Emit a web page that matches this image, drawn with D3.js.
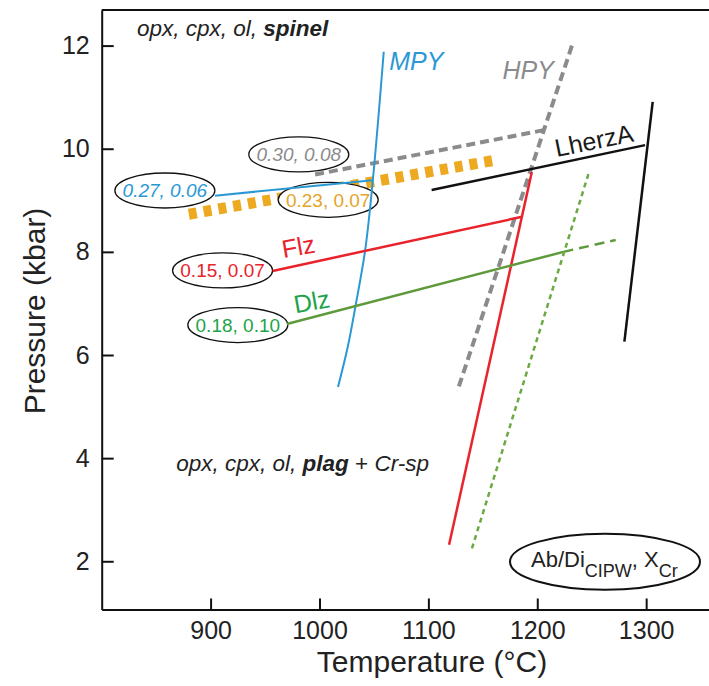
<!DOCTYPE html>
<html>
<head>
<meta charset="utf-8">
<script src="https://cdn.jsdelivr.net/npm/d3@7"></script>
<style>
  body { margin: 0; background: #fff; }
  svg { font-family: "Liberation Sans", Arial, Helvetica, sans-serif; }
</style>
</head>
<body>
<div id="chart"></div>
<script>
// axis ticks
var tempTicks = [900, 1000, 1100, 1200, 1300];
var pressTicks = [2, 4, 6, 8, 10, 12];

// lines as [temperature, pressure]
var mpyLine = [[1017, 5.38], [1026, 6.16], [1033, 6.94], [1042, 8.04], [1049, 9.39], [1059, 11.88]];
var mpyTie = [[904, 9.09], [1049, 9.39]];
var hpyLine = [[1128, 5.39], [1232, 12.01]];
var hpyTie = [[996, 9.50], [1206, 10.36]];
var orangeTie = [[880, 8.73], [1162, 9.78]];
var lherzTie = [[1103, 9.20], [1299, 10.07]];
var lherzLine = [[1280, 6.26], [1306, 10.91]];
var flzTie = [[957, 7.63], [1186, 8.68]];
var flzLine = [[1119, 2.32], [1195, 9.55]];
var dlzTie = [[970, 6.60], [1224, 8.00]];
var dlzExt = [[1224, 8.00], [1272, 8.23]];
var dlzLine = [[1140, 2.25], [1247, 9.51]];

// ellipse labels (Ab/Di, X_Cr) at [temperature, pressure]
var ellipseText = ["0.27, 0.06", "0.30, 0.08", "0.23, 0.07", "0.15, 0.07", "0.18, 0.10"];
var ellipsePos = [[858, 9.19], [981, 9.89], [1008, 9.01], [911, 7.64], [925, 6.58]];

// sample names at [temperature, pressure] of text start
var sampleNames = ["MPY", "HPY", "LherzA", "Flz", "Dlz"];
var samplePos = [[1064, 11.53], [1168, 11.35], [1218, 9.84], [967, 7.88], [978, 6.81]];

var width = 709, height = 686;
var blue = "#2b98d6", gray = "#8b8b8d", orange = "#eda920", red = "#e8232b",
    green = "#5e9a3c", greenText = "#1ea34a", black = "#111";

var svg = d3.select("#chart").append("svg")
    .attr("width", width)
    .attr("height", height);

var x = d3.scaleLinear().domain([800, 1360]).range([101.7, 711.5]);
var y = d3.scaleLinear().domain([1.065, 12.69]).range([609.5, 10]);

// frame top line
svg.append("line")
    .attr("x1", x(800)).attr("x2", x(1360))
    .attr("y1", y(12.69)).attr("y2", y(12.69))
    .attr("stroke", black).attr("stroke-width", 2);

var xAxis = svg.append("g")
    .attr("transform", "translate(0," + y(1.065) + ")")
    .call(d3.axisBottom(x).tickValues(tempTicks).tickFormat(d3.format("d"))
        .tickSizeInner(-11).tickSizeOuter(0).tickPadding(12));
var yAxis = svg.append("g")
    .attr("transform", "translate(" + x(800) + ",0)")
    .call(d3.axisLeft(y).tickValues(pressTicks).tickFormat(d3.format("d"))
        .tickSizeInner(-12).tickSizeOuter(0).tickPadding(12));

[xAxis, yAxis].forEach(function(a) {
    a.select(".domain").attr("stroke", black).attr("stroke-width", 2);
    a.selectAll(".tick line").attr("stroke", black).attr("stroke-width", 2);
    a.selectAll(".tick text").attr("fill", "#222").style("font-size", "25px");
});

svg.append("text")
    .attr("x", 432).attr("y", 672)
    .attr("text-anchor", "middle")
    .style("font-size", "30px").attr("fill", "#222")
    .text("Temperature (°C)");

svg.append("text")
    .attr("transform", "translate(45,311) rotate(-90)")
    .attr("text-anchor", "middle")
    .style("font-size", "30px").attr("fill", "#222")
    .text("Pressure (kbar)");

var line = d3.line()
    .x(function(d) { return x(d[0]); })
    .y(function(d) { return y(d[1]); });

function drawLine(data, color, w, dash, curved) {
    svg.append("path")
        .attr("d", curved ? line.curve(d3.curveCatmullRom)(data) : line.curve(d3.curveLinear)(data))
        .attr("fill", "none")
        .attr("stroke", color)
        .attr("stroke-width", w)
        .attr("stroke-dasharray", dash || null);
}

drawLine(orangeTie, orange, 11, "8,7");
drawLine(hpyTie, gray, 4, "9,5");
drawLine(hpyLine, gray, 4, "9,5");

// ellipses with Ab/Di, X_Cr values
var textColors = [blue, gray, "#e3a52a", red, greenText];
var italic = [true, true, false, false, false];
ellipseText.forEach(function(t, i) {
    var cx = x(ellipsePos[i][0]), cy = y(ellipsePos[i][1]);
    svg.append("ellipse")
        .attr("cx", cx).attr("cy", cy)
        .attr("rx", 50).attr("ry", 17.5)
        .attr("fill", "#fff").attr("stroke", black).attr("stroke-width", 1.3);
    svg.append("text")
        .attr("x", cx).attr("y", cy + 7)
        .attr("text-anchor", "middle")
        .style("font-size", "19px")
        .style("font-style", italic[i] ? "italic" : "normal")
        .attr("fill", textColors[i])
        .text(t);
});

drawLine(mpyTie, blue, 2);
drawLine(mpyLine, blue, 2, null, true);
drawLine(lherzTie, black, 2.5);
drawLine(lherzLine, black, 2.5);
drawLine(flzTie, red, 2.5);
drawLine(flzLine, red, 2.5);
drawLine(dlzTie, green, 2.5);
drawLine(dlzExt, green, 2.5, "10,6");
drawLine(dlzLine, "#6aaa44", 2.5, "5,4");

// sample names
var nameColors = [blue, gray, "#1a1a1a", red, greenText];
var nameRotate = [0, 0, -11.5, -10, -10];
var nameItalic = [true, true, false, false, false];
sampleNames.forEach(function(n, i) {
    var px = x(samplePos[i][0]), py = y(samplePos[i][1]);
    svg.append("text")
        .attr("transform", "translate(" + px + "," + py + ") rotate(" + nameRotate[i] + ")")
        .style("font-size", "25px")
        .style("font-style", nameItalic[i] ? "italic" : "normal")
        .attr("fill", nameColors[i])
        .text(n);
});

// field labels
var spinelLabel = svg.append("text")
    .attr("x", 137).attr("y", 36)
    .style("font-size", "22.5px").style("font-style", "italic").attr("fill", "#222");
spinelLabel.append("tspan").text("opx, cpx, ol, ");
spinelLabel.append("tspan").style("font-weight", "bold").text("spinel");

var plagLabel = svg.append("text")
    .attr("x", 429).attr("y", 471)
    .attr("text-anchor", "end")
    .style("font-size", "22.5px").style("font-style", "italic").attr("fill", "#222");
plagLabel.append("tspan").text("opx, cpx, ol, ");
plagLabel.append("tspan").style("font-weight", "bold").text("plag");
plagLabel.append("tspan").style("font-style", "normal").text(" + ");
plagLabel.append("tspan").text("Cr-sp");

// key ellipse
svg.append("ellipse")
    .attr("cx", 605).attr("cy", 561.7)
    .attr("rx", 95).attr("ry", 28)
    .attr("fill", "none").attr("stroke", black).attr("stroke-width", 2);
var keyLabel = svg.append("text")
    .attr("x", 531).attr("y", 567)
    .style("font-size", "22px").attr("fill", "#222");
keyLabel.append("tspan").text("Ab/Di");
keyLabel.append("tspan").attr("dy", 10).style("font-size", "18px").text("CIPW");
keyLabel.append("tspan").attr("dy", -10).text(", X");
keyLabel.append("tspan").attr("dy", 10).style("font-size", "18px").text("Cr");
</script>
</body>
</html>
